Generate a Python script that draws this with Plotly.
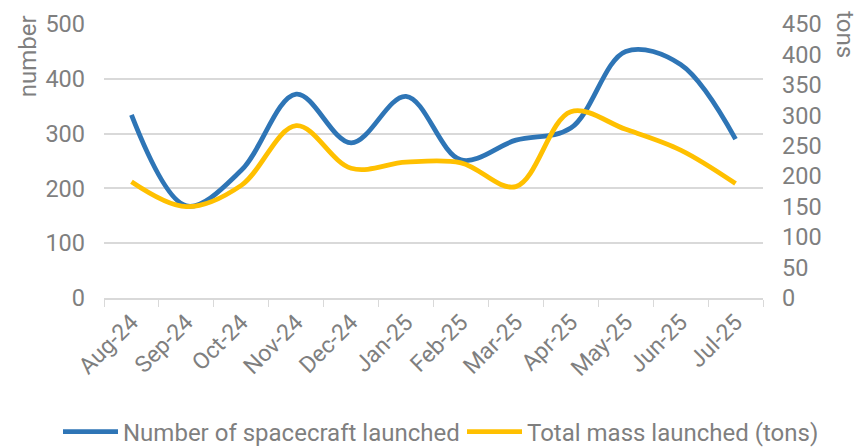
import plotly.graph_objects as go

months = ["Aug-24", "Sep-24", "Oct-24", "Nov-24", "Dec-24", "Jan-25",
          "Feb-25", "Mar-25", "Apr-25", "May-25", "Jun-25", "Jul-25"]
spacecraft = [334, 168, 233, 372, 283, 368, 252, 288, 310, 450, 426, 290]
mass_tons = [191, 150, 185, 283, 213, 223, 222, 183, 306, 277, 243, 188]

left_ticks = [0, 100, 200, 300, 400, 500]
right_ticks = [0, 50, 100, 150, 200, 250, 300, 350, 400, 450]

GRAY = "#7f7f7f"
FONT = "Roboto"
FS = 23

fig = go.Figure()
fig.add_trace(go.Scatter(
    x=months, y=spacecraft, name="Number of spacecraft launched",
    mode="lines", line=dict(color="#2E75B6", width=4.8, shape="spline", smoothing=1.0),
    yaxis="y", legend="legend"))
fig.add_trace(go.Scatter(
    x=months, y=mass_tons, name="Total mass launched (tons)",
    mode="lines", line=dict(color="#FFC000", width=4.8, shape="spline", smoothing=1.0),
    yaxis="y2", legend="legend2"))

legend_common = dict(orientation="h", xref="container", yref="container",
                     xanchor="left", y=0.0357, yanchor="middle",
                     font=dict(size=24, color=GRAY), itemwidth=55,
                     bgcolor="rgba(0,0,0,0)", borderwidth=0)

fig.update_layout(
    width=862, height=448,
    margin=dict(l=104, r=99, t=24, b=150, autoexpand=False),
    paper_bgcolor="white", plot_bgcolor="white",
    font=dict(family=FONT, color=GRAY, size=FS),
    showlegend=True,
    legend=dict(x=58 / 862, **legend_common),
    legend2=dict(x=462 / 862, **legend_common),
    xaxis=dict(type="category", showgrid=False, showline=True, linecolor="#d9d9d9",
               linewidth=1.5, ticks="outside", tickson="boundaries", ticklen=7,
               tickcolor="#d9d9d9", tickangle=-45, tickfont=dict(size=FS, color=GRAY),
               range=[-0.5, 11.5], zeroline=False),
    yaxis=dict(range=[0, 500], tickvals=left_ticks, showgrid=True, gridcolor="#d9d9d9",
               gridwidth=1.5, zeroline=False, showline=False, ticks="",
               tickfont=dict(size=23.5, color=GRAY), ticklabelstandoff=18),
    yaxis2=dict(range=[0, 450], tickvals=right_ticks, overlaying="y", side="right",
                showgrid=False, zeroline=False, showline=False, ticks="",
                tickfont=dict(size=23.5, color=GRAY), ticklabelstandoff=18),
)

fig.add_annotation(text="number", xref="paper", yref="paper", x=-0.115, y=0.883,
                   textangle=-90, showarrow=False, font=dict(size=24, color=GRAY),
                   xanchor="center", yanchor="middle")
fig.add_annotation(text="tons", xref="paper", yref="paper", x=1.124, y=0.96,
                   textangle=90, showarrow=False, font=dict(size=24, color=GRAY),
                   xanchor="center", yanchor="middle")

fig.write_html("out.html", config={"displayModeBar": False},
               post_script="document.body.style.margin='0';document.body.style.padding='0';")
